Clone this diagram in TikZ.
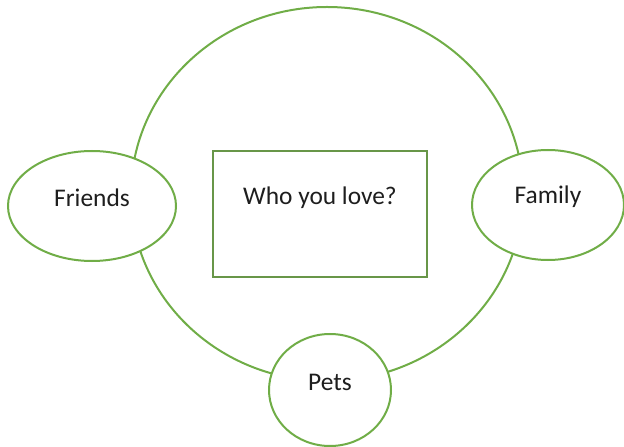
\documentclass[tikz,border=0pt]{standalone}
\usepackage{fontspec}
\setmainfont{Carlito}
\usetikzlibrary{shapes.geometric}
\definecolor{ringgreen}{RGB}{112,173,71}
\definecolor{boxgreen}{RGB}{104,150,72}
\definecolor{inkgray}{RGB}{30,30,30}

\begin{document}
\begin{tikzpicture}[x=1bp, y=-1bp, line width=2bp,
	every node/.style={font=\fontsize{25.5}{30}\selectfont, text=inkgray},
	blob/.style={ellipse, draw=ringgreen, fill=white, inner sep=0pt}]
	
	\useasboundingbox (0,0) rectangle (624,447);
	
	%//the big ring goes first, the others sit on top of it
	\node (ring) [ellipse, draw=ringgreen, minimum width=392bp, minimum height=374bp] at (327,194) {};
	
	\node (box) [draw=boxgreen, fill=white, minimum width=214bp, minimum height=126bp, label={[yshift=16bp]center:Who you love?}] at (320,214) {};
	
	\foreach \name/\x/\y/\w/\h/\txt in {friends/92/206/168/110/Friends, family/548/205/152/110/Family, pets/330/390/122/112/Pets}
	\node (\name) [blob, minimum width=\w bp, minimum height=\h bp, label={[yshift=8bp]center:\txt}] at (\x,\y) {};
	
\end{tikzpicture}
\end{document}
